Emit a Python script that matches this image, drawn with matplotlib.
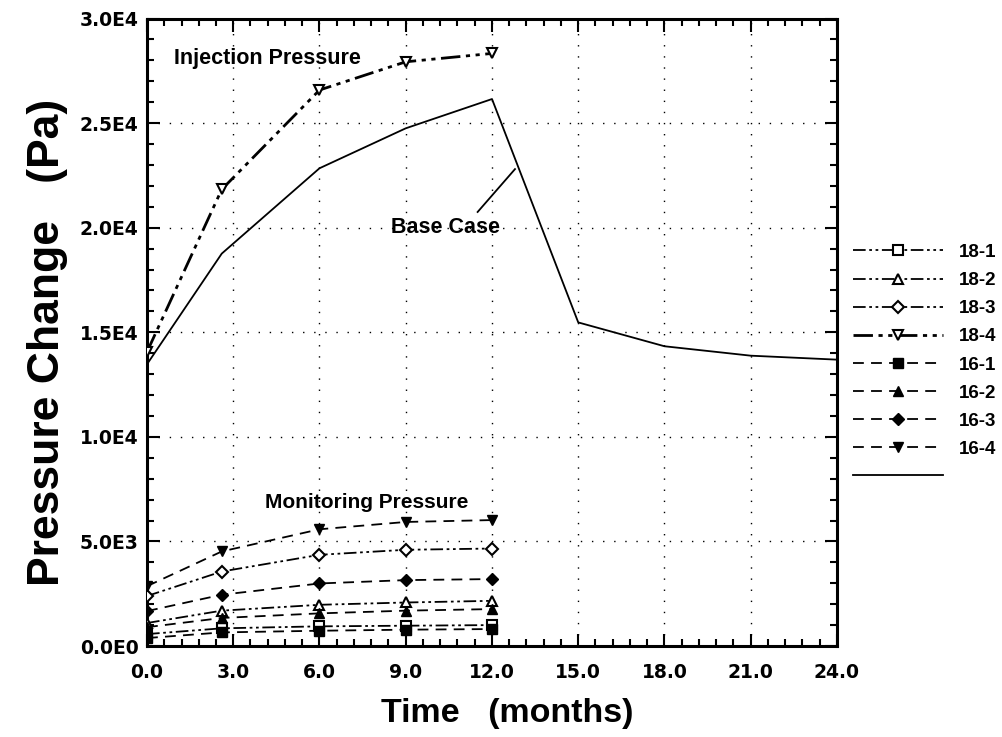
import matplotlib
matplotlib.use("Agg")
import matplotlib.pyplot as plt
from matplotlib.ticker import MultipleLocator

# ---------------- data ----------------
t_mon = [0.0, 2.6, 6.0, 9.0, 12.0]
t_base = [0.0, 2.6, 6.0, 9.0, 12.0, 15.0, 18.0, 21.0, 24.0]

p18_1 = [570, 845, 940, 970, 1000]
p18_2 = [1100, 1690, 1970, 2080, 2160]
p18_3 = [2390, 3560, 4360, 4600, 4660]
p18_4 = [14060, 21830, 26580, 27930, 28330]
p16_1 = [380, 650, 730, 780, 810]
p16_2 = [900, 1340, 1560, 1690, 1765]
p16_3 = [1670, 2450, 2990, 3150, 3200]
p16_4 = [2860, 4520, 5580, 5930, 6020]
base = [13470, 18760, 22840, 24750, 26150, 15470, 14330, 13880, 13690]

labels_18 = ["18-1", "18-2", "18-3", "18-4"]
labels_16 = ["16-1", "16-2", "16-3", "16-4"]

x_ticks = [0, 3, 6, 9, 12, 15, 18, 21, 24]
y_ticks = [0, 5000, 10000, 15000, 20000, 25000, 30000]
y_tick_labels = ["0.0E0", "5.0E3", "1.0E4", "1.5E4", "2.0E4", "2.5E4", "3.0E4"]

# ---------------- figure ----------------
fig = plt.figure(figsize=(10.03, 7.37), dpi=100)
ax = fig.add_axes([147 / 1003, 1 - 646 / 737, 690 / 1003, 627.5 / 737])

dash18 = (0, (7, 2, 1.5, 2, 1.5, 2))
dash16 = (0, (6, 4))

series18 = [p18_1, p18_2, p18_3, p18_4]
series16 = [p16_1, p16_2, p16_3, p16_4]
mk18 = ["s", "^", "D", "v"]
mk16 = ["s", "^", "D", "v"]
ms = {"s": 6.5, "^": 7.5, "D": 6.5, "v": 7.5}

handles = []
for lab, ys, m in zip(labels_18, series18, mk18):
    lw = 2.0 if lab == "18-4" else 1.3
    h, = ax.plot(t_mon, ys, linestyle=dash18, color="black", lw=lw,
                 marker=m, markersize=ms[m], markerfacecolor="white",
                 markeredgecolor="black", markeredgewidth=1.5, label=lab,
                 zorder=4)
    handles.append(h)
for lab, ys, m in zip(labels_16, series16, mk16):
    h, = ax.plot(t_mon, ys, linestyle=dash16, color="black", lw=1.3,
                 marker=m, markersize=ms[m], markerfacecolor="black",
                 markeredgecolor="black", label=lab, zorder=4)
    handles.append(h)
hb, = ax.plot(t_base, base, color="black", lw=1.3, label=" ", zorder=3)
handles.append(hb)

# axes settings
ax.set_xlim(0, 24)
ax.set_ylim(0, 30000)
ax.xaxis.set_minor_locator(MultipleLocator(0.6))
ax.yaxis.set_minor_locator(MultipleLocator(1000))
ax.set_xticks(x_ticks)
ax.set_xticklabels([f"{v:.1f}" for v in x_ticks])
ax.set_yticks(y_ticks)
ax.set_yticklabels(y_tick_labels)

ax.tick_params(which="both", direction="in", top=True, right=True,
               width=1.5, color="black")
ax.tick_params(which="major", length=9)
ax.tick_params(which="minor", length=5)
for lab in ax.get_xticklabels() + ax.get_yticklabels():
    lab.set_fontfamily("DejaVu Sans")
    lab.set_fontweight("bold")
    lab.set_fontsize(13.5)
ax.tick_params(axis="x", pad=12)
ax.tick_params(axis="y", pad=6)

for sp in ax.spines.values():
    sp.set_linewidth(2.2)

ax.grid(True, which="major", linestyle=(0, (1, 7)), color="black",
        linewidth=1.0)

ax.set_xlabel("Time   (months)", fontfamily="Liberation Sans",
              fontweight="bold", fontsize=24.5)
ax.xaxis.set_label_coords(0.5217, -0.083)
ax.set_ylabel("Pressure Change   (Pa)", fontfamily="Liberation Sans",
              fontweight="bold", fontsize=32)
ax.yaxis.set_label_coords(-0.114, 0.484)

# annotations
ax.text(0.95, 28100, "Injection Pressure", fontfamily="Liberation Sans",
        fontweight="bold", fontsize=15.5, va="center", ha="left")
ax.text(4.1, 6850, "Monitoring Pressure", fontfamily="Liberation Sans",
        fontweight="bold", fontsize=15, va="center", ha="left")
ax.text(10.4, 20000, "Base Case", fontfamily="Liberation Sans",
        fontweight="bold", fontsize=15.5, va="center", ha="center")
ax.plot([11.5, 12.8], [20750, 22800], color="black", lw=1.3)

# legend
leg = fig.legend(handles=handles, loc="upper left",
                 bbox_to_anchor=(836 / 1003, 1 - 227 / 737),
                 frameon=False, handlelength=4.8, handletextpad=0.85,
                 labelspacing=0.587,
                 prop={"family": "Liberation Sans", "weight": "bold",
                       "size": 13.5})

fig.savefig("out.png", dpi=100)
